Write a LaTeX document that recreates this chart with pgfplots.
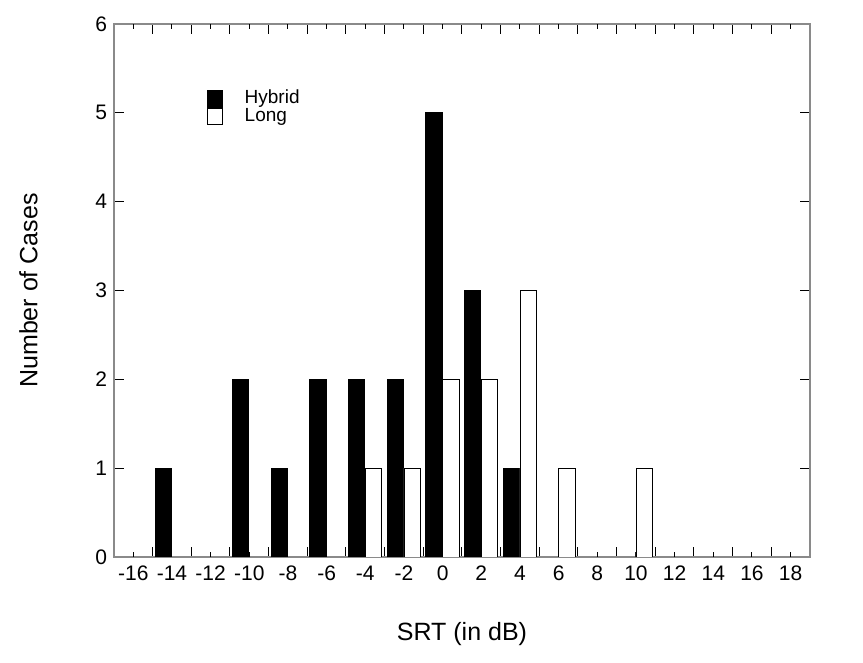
\documentclass[border=0pt]{standalone}
\usepackage{fontspec}
\setmainfont{Liberation Sans}
\usepackage{pgfplots}
\pgfplotsset{compat=1.18}
\definecolor{framegray}{HTML}{8A8A8A}
\begin{document}
\begin{tikzpicture}
\begin{axis}[
  scale only axis,
  width=348pt, height=266.5pt,
  xmin=-17, xmax=19, ymin=0, ymax=6,
  xtick={-15,-13,...,17},
  xticklabels={},
  extra x ticks={-16,-14,...,18},
  extra x tick labels={-16,-14,-12,-10,-8,-6,-4,-2,0,2,4,6,8,10,12,14,16,18},
  extra tick style={major tick length=2.5pt},
  ytick={0,1,...,6},
  major tick length=4.8pt,
  every major tick/.append style={black, line width=0.5pt},
  tick align=inside,
  axis line style={framegray, line width=1.3pt},
  /pgf/number format/assume math mode=true,
  tick label style={font=\fontsize{10.5}{12}\selectfont},
  xticklabel style={yshift=-1pt},
  xlabel={SRT (in dB)},
  ylabel={Number of Cases},
  label style={font=\fontsize{12.5}{14}\selectfont},
  xlabel style={yshift=-14pt},
  ylabel style={yshift=22pt},
  legend style={at={(0.124,0.885)}, anchor=north west, draw=none, fill=none,
    font=\fontsize{9.5}{9.5}\selectfont, row sep=0pt,
    nodes={inner sep=0pt, text height=6.6pt, text depth=1.9pt}},
  legend cell align=left,
  legend image code/.code={\draw[#1, line width=0.5pt] (0pt,-4.2pt) rectangle (7.5pt,4.2pt);},
]
\addplot[ybar, fill=black, draw=black, line width=0.4pt, bar width=0.84, bar shift=-0.45]
  coordinates {(-14,1) (-10,2) (-8,1) (-6,2) (-4,2) (-2,2) (0,5) (2,3) (4,1)};
\addlegendentry{\hspace{11pt}Hybrid}
\addplot[ybar, fill=white, draw=black, line width=0.4pt, bar width=0.84, bar shift=0.42]
  coordinates {(-4,1) (-2,1) (0,2) (2,2) (4,3) (6,1) (10,1)};
\addlegendentry{\hspace{11pt}Long}
\end{axis}
\pgfresetboundingbox
\path[use as bounding box] (-57pt,-53pt) rectangle (374.5pt,278.5pt);
\end{tikzpicture}
\end{document}
